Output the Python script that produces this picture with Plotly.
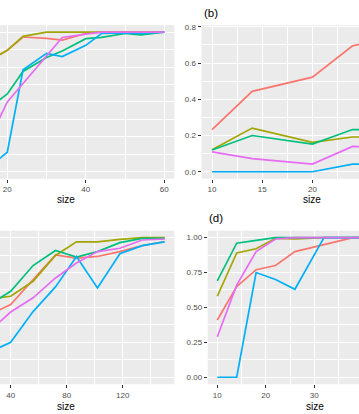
import plotly.graph_objects as go

# ggplot default hues for 5 groups
colors = ["#F8766D", "#A3A500", "#00BF7D", "#00B0F6", "#E76BF3"]

# panel (a)
size_a = [10, 14, 20, 24, 30, 34, 40, 44, 50, 54, 60]
a_red = [0.60, 0.775, 0.87, 0.965, 0.955, 0.943, 0.99, 1.0, 1.0, 1.0, 1.0]
a_olive = [0.60, 0.77, 0.87, 0.97, 1.0, 1.0, 1.0, 1.0, 1.0, 1.0, 1.0]
a_green = [0.30, 0.43, 0.557, 0.718, 0.818, 0.865, 0.953, 0.962, 0.99, 0.98, 1.0]
a_blue = [0.0, 0.0, 0.14, 0.73, 0.848, 0.825, 0.905, 0.99, 0.995, 0.99, 1.0]
a_pink = [0.05, 0.145, 0.50, 0.63, 0.83, 0.962, 0.986, 1.0, 1.0, 1.0, 1.0]

# panel (b)
size_b = [10, 14, 20, 24, 30]
b_red = [0.232, 0.444, 0.522, 0.695, 0.77]
b_olive = [0.122, 0.241, 0.162, 0.192, 0.19]
b_green = [0.12, 0.20, 0.153, 0.233, 0.23]
b_blue = [0.0, 0.0, 0.0, 0.042, 0.042]
b_pink = [0.11, 0.073, 0.042, 0.14, 0.125]

# panel (c)
size_c = [10, 25, 40, 56, 72, 87, 102, 118, 134, 150]
c_red = [0.30, 0.45, 0.52, 0.70, 0.877, 0.853, 0.865, 0.90, 0.943, 0.972]
c_olive = [0.40, 0.56, 0.58, 0.687, 0.872, 0.97, 0.97, 0.988, 1.0, 1.0]
c_green = [0.40, 0.52, 0.616, 0.80, 0.908, 0.86, 0.90, 0.964, 0.995, 0.995]
c_blue = [0.0, 0.18, 0.25, 0.47, 0.647, 0.865, 0.64, 0.884, 0.943, 0.97]
c_pink = [0.20, 0.33, 0.467, 0.569, 0.711, 0.818, 0.90, 0.924, 0.983, 0.99]

# panel (d)
size_d = [10, 14, 18, 22, 26, 32, 38, 44, 50]
d_red = [0.41, 0.65, 0.77, 0.80, 0.90, 0.95, 1.0, 1.0, 1.0]
d_olive = [0.58, 0.89, 0.92, 0.995, 0.99, 1.0, 1.0, 1.0, 1.0]
d_green = [0.69, 0.96, 0.98, 1.0, 1.0, 1.0, 1.0, 1.0, 1.0]
d_blue = [0.0, 0.0, 0.75, 0.70, 0.63, 1.0, 1.0, 1.0, 1.0]
d_pink = [0.29, 0.66, 0.90, 0.99, 1.0, 1.0, 1.0, 1.0, 1.0]

W, H = 359, 414
FONT = "Liberation Sans, Arial, sans-serif"

panels = [
    (size_a, [a_red, a_olive, a_green, a_blue, a_pink], "x", "y"),
    (size_b, [b_red, b_olive, b_green, b_blue, b_pink], "x2", "y2"),
    (size_c, [c_red, c_olive, c_green, c_blue, c_pink], "x3", "y3"),
    (size_d, [d_red, d_olive, d_green, d_blue, d_pink], "x4", "y4"),
]

fig = go.Figure()
for sizes, series, xa, ya in panels:
    for col, vals in zip(colors, series):
        fig.add_trace(go.Scatter(x=sizes, y=vals, mode="lines", xaxis=xa, yaxis=ya,
                                 line=dict(color=col, width=1.7), showlegend=False,
                                 cliponaxis=True, hoverinfo="skip"))


def px_x(p):
    return p / W


def px_y(p):
    return 1 - p / H


def xaxis(domain, rng, dtick, minor_dtick, anchor):
    return dict(domain=domain, range=rng, anchor=anchor, tick0=0, dtick=dtick,
                showgrid=True, gridcolor="white", gridwidth=1,
                minor=dict(tick0=0, dtick=minor_dtick, showgrid=True,
                           gridcolor="white", gridwidth=0.5),
                ticks="outside", ticklen=3, tickcolor="#333333", tickwidth=1,
                tickfont=dict(size=8, color="#4D4D4D", family=FONT),
                zeroline=False, showline=False)


def yaxis(domain, rng, dtick, minor_dtick, anchor, labels, fmt):
    return dict(domain=domain, range=rng, anchor=anchor, tick0=0, dtick=dtick,
                showgrid=True, gridcolor="white", gridwidth=1,
                minor=dict(tick0=0, dtick=minor_dtick, showgrid=True,
                           gridcolor="white", gridwidth=0.5),
                ticks="outside" if labels else "", ticklen=3, tickcolor="#333333",
                tickwidth=1, showticklabels=labels, tickformat=fmt,
                tickfont=dict(size=8, color="#4D4D4D", family=FONT),
                zeroline=False, showline=False)


top = [px_y(177), px_y(22.3)]
bottom = [px_y(384.0), px_y(229.3)]
left = [0, px_x(174.3)]
right_b = [px_x(201.5), 1]
right_d = [px_x(207.7), 1]

fig.update_layout(
    width=W, height=H,
    margin=dict(l=0, r=0, t=0, b=0),
    paper_bgcolor="white", plot_bgcolor="#EBEBEB",
    font=dict(family=FONT),
    xaxis=xaxis(left, [18.14, 62.55], 20, 10, "y"),
    yaxis=yaxis(top, [-0.05, 1.05], 0.25, 0.125, "x", False, ".2f"),
    xaxis2=xaxis(right_b, [8.95, 24.64], 5, 2.5, "y2"),
    yaxis2=yaxis(top, [-0.0384, 0.8093], 0.2, 0.1, "x2", True, ".1f"),
    xaxis3=xaxis(left, [32.36, 156.9], 40, 20, "y3"),
    yaxis3=yaxis(bottom, [-0.05, 1.05], 0.25, 0.125, "x3", False, ".2f"),
    xaxis4=xaxis(right_d, [8.02, 39.22], 10, 5, "y4"),
    yaxis4=yaxis(bottom, [-0.05, 1.05], 0.25, 0.125, "x4", True, ".2f"),
)

annotations = [
    ("(b)", 202, 10, 11.5, "left"),
    ("(d)", 207, 217, 11.5, "left"),
    ("size", 66, 198, 10, "center"),
    ("size", 312, 198, 10, "center"),
    ("size", 66, 406, 10, "center"),
    ("size", 314.5, 406, 10, "center"),
]
for text, x, y, fs, align in annotations:
    fig.add_annotation(text=text, x=px_x(x), y=px_y(y), xref="paper", yref="paper",
                       xanchor=align, yanchor="middle", showarrow=False,
                       font=dict(size=fs, color="black", family=FONT))

# drop the page's default body margin so the 359x414 figure fills the window
fig.write_html("out.html", config={"displayModeBar": False},
               post_script="document.body.style.margin='0';")
